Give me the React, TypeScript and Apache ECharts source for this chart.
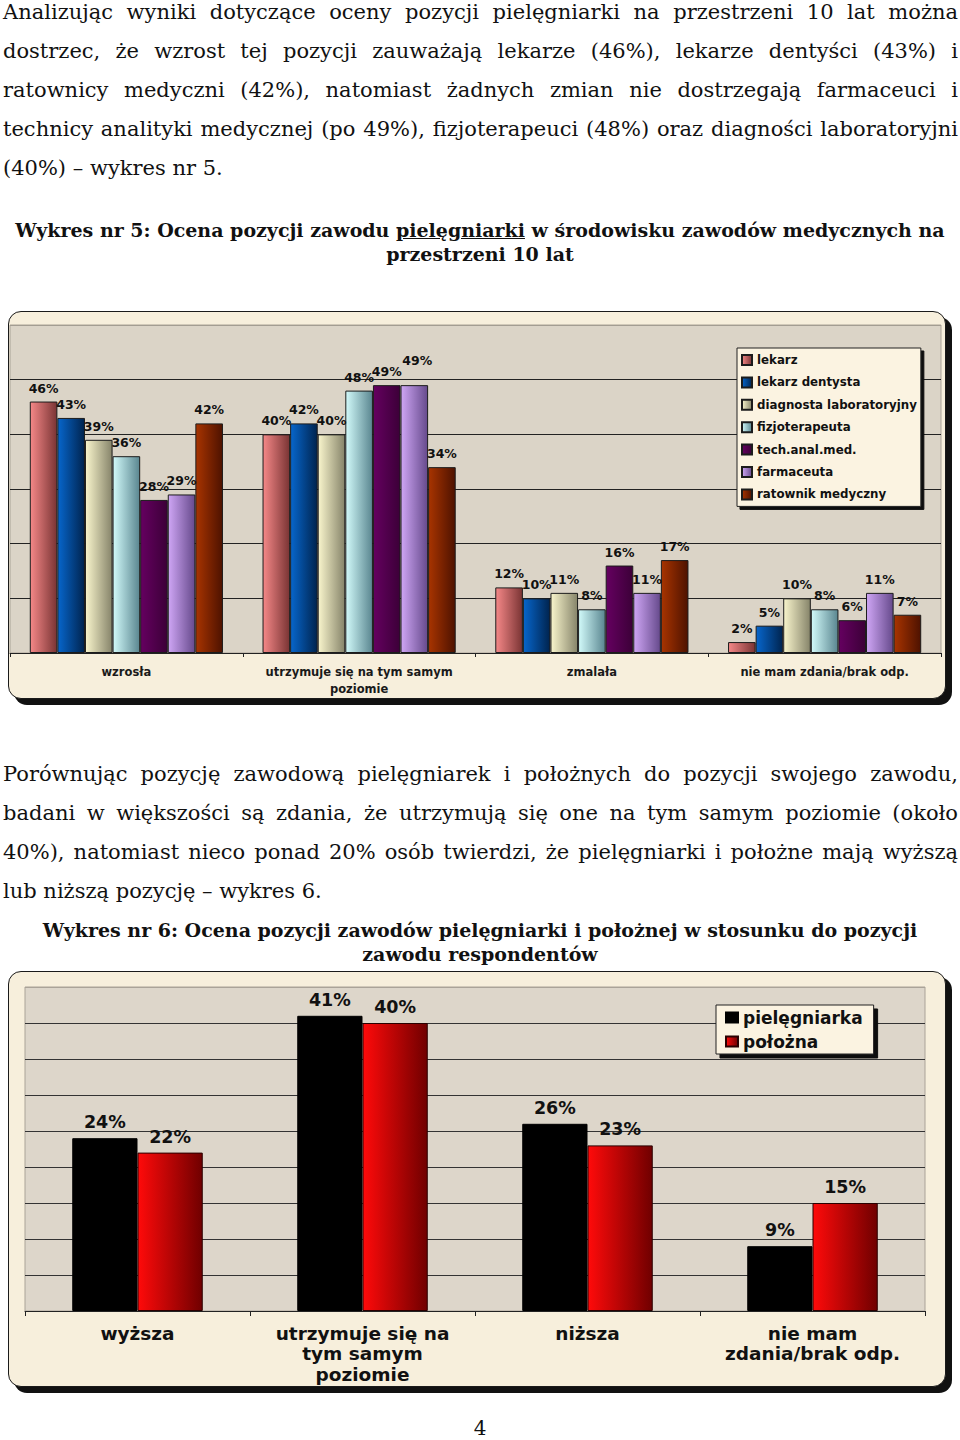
import React, { useEffect, useRef } from "react";
import * as echarts from "echarts";

// ---------- text ----------
const para1Lines = [
  "Analizując wyniki dotyczące oceny pozycji pielęgniarki na przestrzeni 10 lat można",
  "dostrzec, że wzrost tej pozycji zauważają lekarze (46%), lekarze dentyści (43%) i",
  "ratownicy medyczni (42%), natomiast żadnych zmian nie dostrzegają farmaceuci i",
  "technicy analityki medycznej (po 49%), fizjoterapeuci (48%) oraz diagności laboratoryjni",
  "(40%) – wykres nr 5.",
];
const para2Lines = [
  "Porównując pozycję zawodową pielęgniarek i położnych do pozycji swojego zawodu,",
  "badani w większości są zdania, że utrzymują się one na tym samym poziomie (około",
  "40%), natomiast nieco ponad 20% osób twierdzi, że pielęgniarki i położne mają wyższą",
  "lub niższą pozycję – wykres 6.",
];
const title1Before = "Wykres nr 5: Ocena pozycji zawodu ";
const title1Under = "pielęgniarki";
const title1After = " w środowisku zawodów medycznych na";
const title1Line2 = "przestrzeni 10 lat";
const title2Line1 = "Wykres nr 6: Ocena pozycji zawodów pielęgniarki i położnej w stosunku do pozycji";
const title2Line2 = "zawodu respondentów";
const pageNumber = "4";

// ---------- chart 5 data ----------
const categories5 = [
  "wzrosła",
  "utrzymuje się na tym samym\npoziomie",
  "zmalała",
  "nie mam zdania/brak odp.",
];
const seriesNames5 = [
  "lekarz",
  "lekarz dentysta",
  "diagnosta laboratoryjny",
  "fizjoterapeuta",
  "tech.anal.med.",
  "farmaceuta",
  "ratownik medyczny",
];
const lekarz = [46, 40, 12, 2];
const lekarzDentysta = [43, 42, 10, 5];
const diagnostaLab = [39, 40, 11, 10];
const fizjoterapeuta = [36, 48, 8, 8];
const techAnalMed = [28, 49, 16, 6];
const farmaceuta = [29, 49, 11, 11];
const ratownikMed = [42, 34, 17, 7];
const values5 = [lekarz, lekarzDentysta, diagnostaLab, fizjoterapeuta, techAnalMed, farmaceuta, ratownikMed];

// ---------- chart 6 data ----------
const categories6 = [
  "wyższa",
  "utrzymuje się na\ntym samym\npoziomie",
  "niższa",
  "nie mam\nzdania/brak odp.",
];
const seriesNames6 = ["pielęgniarka", "położna"];
const pielegniarka = [24, 41, 26, 9];
const polozna = [22, 40, 23, 15];
const values6 = [pielegniarka, polozna];

// ---------- styles ----------
const colors5: [string, string][] = [
  ["#f58888", "#7a3434"],
  ["#0766cc", "#00244f"],
  ["#f9f5cc", "#86846a"],
  ["#d2fafa", "#5a8690"],
  ["#650060", "#3c0038"],
  ["#cfa6f5", "#664a8c"],
  ["#a83400", "#4e1200"],
];
const colors6: [string, string][] = [
  ["#000000", "#000000"],
  ["#ff0a0a", "#700000"],
];

const grad = (a: string, b: string) => ({
  type: "linear",
  x: 0,
  y: 0,
  x2: 1,
  y2: 0,
  colorStops: [
    { offset: 0, color: a },
    { offset: 1, color: b },
  ],
});

const serifFont = "'DejaVu Serif', serif";
const sansBold = "DejaVu Sans";

function option5(): any {
  const lines = ["#222", "#222", "#222", "#222", "#222", "#222", "#a39d92"];
  return {
    animation: false,
    backgroundColor: "transparent",
    grid: {
      left: 10,
      top: 25,
      width: 931,
      height: 328,
      show: true,
      backgroundColor: "#dbd4c7",
      borderColor: "#aaa397",
      borderWidth: 1,
    },
    legend: {
      left: 737,
      top: 48,
      orient: "vertical",
      selectedMode: false,
      icon: "rect",
      backgroundColor: "#fbf3e1",
      borderColor: "#222",
      borderWidth: 1,
      padding: [6, 4, 6, 4],
      shadowColor: "#111",
      shadowOffsetX: 3,
      shadowOffsetY: 3,
      shadowBlur: 0,
      itemWidth: 10,
      itemHeight: 10,
      itemGap: 10.4,
      textStyle: {
        fontFamily: sansBold,
        fontWeight: "bold",
        fontSize: 11.8,
        lineHeight: 12,
        color: "#111",
      },
      data: seriesNames5,
    },
    xAxis: {
      type: "category",
      data: categories5,
      axisLine: { lineStyle: { color: "#222", width: 1 } },
      axisTick: { show: true, length: 4, lineStyle: { color: "#222" } },
      axisLabel: {
        interval: 0,
        margin: 10,
        fontFamily: sansBold,
        fontWeight: "bold",
        fontSize: 11.5,
        lineHeight: 17,
        color: "#1a1a1a",
      },
    },
    yAxis: {
      type: "value",
      min: 0,
      max: 60,
      interval: 10,
      axisLabel: { show: false },
      axisLine: { show: false },
      axisTick: { show: false },
      splitLine: { show: true, lineStyle: { color: lines, width: 1 } },
    },
    series: seriesNames5.map((name, i) => ({
      name,
      type: "bar",
      // one label raised to avoid a collision, as in the original
      data: values5[i].map((v, j) => (i === 5 && j === 1 ? { value: v, label: { offset: [3, -11] } } : v)),
      barGap: "0%",
      barCategoryGap: "17%",
      itemStyle: {
        color: grad(colors5[i][0], colors5[i][1]),
        borderColor: "#1c1c1c",
        borderWidth: 1,
      },
      label: {
        show: true,
        position: "top",
        distance: 7,
        formatter: "{c}%",
        fontFamily: sansBold,
        fontWeight: "bold",
        fontSize: 12.5,
        color: "#111",
      },
    })),
  };
}

function option6(): any {
  const lines = ["#333", "#333", "#333", "#333", "#333", "#333", "#333", "#333", "#333", "#aaa398"];
  return {
    animation: false,
    backgroundColor: "transparent",
    grid: {
      left: 25,
      top: 27,
      width: 900,
      height: 324,
      show: true,
      backgroundColor: "#ddd6ca",
      borderColor: "#aaa398",
      borderWidth: 1,
    },
    legend: {
      left: 716,
      top: 45,
      orient: "vertical",
      selectedMode: false,
      icon: "rect",
      backgroundColor: "#fbf3e1",
      borderColor: "#222",
      borderWidth: 1,
      padding: [4, 11, 4, 9],
      shadowColor: "#111",
      shadowOffsetX: 4,
      shadowOffsetY: 4,
      shadowBlur: 0,
      itemWidth: 12,
      itemHeight: 10,
      itemGap: 7,
      textStyle: {
        fontFamily: sansBold,
        fontWeight: "bold",
        fontSize: 17,
        lineHeight: 14,
        color: "#111",
      },
      data: seriesNames6,
    },
    xAxis: {
      type: "category",
      data: categories6,
      axisLine: { lineStyle: { color: "#222", width: 1 } },
      axisTick: { show: true, length: 5, lineStyle: { color: "#222" } },
      axisLabel: {
        interval: 0,
        margin: 12,
        fontFamily: sansBold,
        fontWeight: "bold",
        fontSize: 18.5,
        lineHeight: 20.5,
        color: "#111",
      },
    },
    yAxis: {
      type: "value",
      min: 0,
      max: 45,
      interval: 5,
      axisLabel: { show: false },
      axisLine: { show: false },
      axisTick: { show: false },
      splitLine: { show: true, lineStyle: { color: lines, width: 1 } },
    },
    series: seriesNames6.map((name, i) => ({
      name,
      type: "bar",
      data: values6[i],
      barGap: "0%",
      barCategoryGap: "42%",
      itemStyle: {
        color: grad(colors6[i][0], colors6[i][1]),
        borderColor: i === 0 ? "#000" : "#2a0000",
        borderWidth: 1,
      },
      label: {
        show: true,
        position: "top",
        distance: 7,
        formatter: "{c}%",
        fontFamily: sansBold,
        fontWeight: "bold",
        fontSize: 17.5,
        color: "#111",
      },
    })),
  };
}

function Chart({ option, style }: { option: any; style: React.CSSProperties }) {
  const ref = useRef<HTMLDivElement>(null);
  useEffect(() => {
    if (!ref.current) return;
    const chart = echarts.init(ref.current, undefined, { renderer: "svg" });
    chart.setOption(option);
    return () => chart.dispose();
  }, []);
  return <div ref={ref} style={style} />;
}

const lineStyle = (top: number, justify: boolean, width = 955): React.CSSProperties => ({
  position: "absolute",
  left: 3,
  top,
  width,
  fontFamily: serifFont,
  fontSize: 21,
  lineHeight: "24px",
  color: "#111",
  textAlign: justify ? "justify" : "left",
  textAlignLast: justify ? "justify" : "left",
  whiteSpace: "normal",
});

const frameStyle = (top: number, height: number): React.CSSProperties => ({
  position: "absolute",
  left: 8,
  top,
  width: 936,
  height,
  border: "1.5px solid #1a1a1a",
  borderRadius: 13,
  background: "#f7efdc",
  boxShadow: "6px 6px 0 #111",
});

const titleStyle = (top: number): React.CSSProperties => ({
  position: "absolute",
  left: 0,
  top,
  width: 960,
  textAlign: "center",
  fontFamily: serifFont,
  fontWeight: "bold",
  fontSize: 19,
  lineHeight: "24px",
  color: "#111",
});

export default function App() {
  const p1Top = [0, 39, 78, 117, 156];
  const p2Top = [762, 801, 840, 879];
  return (
    <div style={{ position: "absolute", left: 0, top: 0, width: 960, height: 1440, background: "#fff", overflow: "hidden" }}>
      {para1Lines.map((t, i) => (
        <div key={"p1" + i} style={lineStyle(p1Top[i], i < para1Lines.length - 1)}>{t}</div>
      ))}
      <div style={titleStyle(218)}>
        <div>
          {title1Before}
          <span style={{ textDecoration: "underline" }}>{title1Under}</span>
          {title1After}
        </div>
        <div>{title1Line2}</div>
      </div>

      <div style={frameStyle(311, 386)} />
      <Chart option={option5()} style={{ position: "absolute", left: 0, top: 300, width: 960, height: 410 }} />

      {para2Lines.map((t, i) => (
        <div key={"p2" + i} style={lineStyle(p2Top[i], i < para2Lines.length - 1)}>{t}</div>
      ))}

      <div style={titleStyle(918)}>
        <div>{title2Line1}</div>
        <div>{title2Line2}</div>
      </div>

      <div style={frameStyle(971, 414)} />
      <Chart option={option6()} style={{ position: "absolute", left: 0, top: 960, width: 960, height: 440 }} />

      <div
        style={{
          position: "absolute",
          left: 0,
          top: 1416,
          width: 960,
          textAlign: "center",
          fontFamily: serifFont,
          fontSize: 20,
          lineHeight: "24px",
          color: "#111",
        }}
      >
        {pageNumber}
      </div>
    </div>
  );
}
